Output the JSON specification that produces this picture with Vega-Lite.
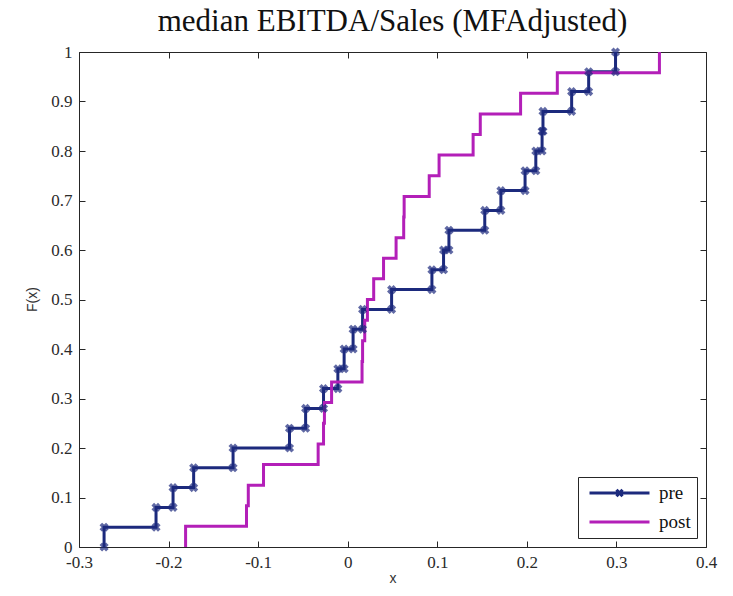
{
  "$schema": "https://vega.github.io/schema/vega-lite/v6.json",
  "width": 627,
  "height": 495,
  "autosize": "none",
  "padding": {"left": 79, "top": 52, "right": 27, "bottom": 49},
  "background": "white",
  "title": {
    "text": "median EBITDA/Sales (MFAdjusted)",
    "font": "Liberation Serif",
    "fontSize": 31,
    "fontWeight": "normal",
    "color": "#111111",
    "anchor": "middle",
    "baseline": "alphabetic",
    "offset": 12,
    "dy": 31
  },
  "config": {
    "view": {"stroke": null},
    "locale": {"number": {"decimal": ".", "thousands": ",", "grouping": [3], "currency": ["", ""], "minus": "-"}},
    "axis": {
      "domainColor": "#262626",
      "tickColor": "#262626",
      "tickSize": -6,
      "grid": false,
      "labelFlush": false,
      "labelFont": "Liberation Serif",
      "labelFontSize": 17,
      "labelColor": "#2a2a2a",
      "titleFont": "Liberation Sans",
      "titleFontSize": 14,
      "titleFontWeight": "normal",
      "titleColor": "#333333"
    }
  },
  "data": {
    "values": [
      {"series": "pre", "x": -0.272, "lo": 0.00, "hi": 0.04},
      {"series": "pre", "x": -0.214, "lo": 0.04, "hi": 0.08},
      {"series": "pre", "x": -0.195, "lo": 0.08, "hi": 0.12},
      {"series": "pre", "x": -0.172, "lo": 0.12, "hi": 0.16},
      {"series": "pre", "x": -0.128, "lo": 0.16, "hi": 0.20},
      {"series": "pre", "x": -0.065, "lo": 0.20, "hi": 0.24},
      {"series": "pre", "x": -0.047, "lo": 0.24, "hi": 0.28},
      {"series": "pre", "x": -0.027, "lo": 0.28, "hi": 0.32},
      {"series": "pre", "x": -0.011, "lo": 0.32, "hi": 0.36},
      {"series": "pre", "x": -0.004, "lo": 0.36, "hi": 0.40},
      {"series": "pre", "x": 0.006, "lo": 0.40, "hi": 0.44},
      {"series": "pre", "x": 0.0166, "lo": 0.44, "hi": 0.48},
      {"series": "pre", "x": 0.049, "lo": 0.48, "hi": 0.52},
      {"series": "pre", "x": 0.094, "lo": 0.52, "hi": 0.56},
      {"series": "pre", "x": 0.107, "lo": 0.56, "hi": 0.60},
      {"series": "pre", "x": 0.113, "lo": 0.60, "hi": 0.64},
      {"series": "pre", "x": 0.153, "lo": 0.64, "hi": 0.68},
      {"series": "pre", "x": 0.171, "lo": 0.68, "hi": 0.72},
      {"series": "pre", "x": 0.198, "lo": 0.72, "hi": 0.76},
      {"series": "pre", "x": 0.210, "lo": 0.76, "hi": 0.80},
      {"series": "pre", "x": 0.217, "lo": 0.80, "hi": 0.84},
      {"series": "pre", "x": 0.218, "lo": 0.84, "hi": 0.88},
      {"series": "pre", "x": 0.250, "lo": 0.88, "hi": 0.92},
      {"series": "pre", "x": 0.269, "lo": 0.92, "hi": 0.96},
      {"series": "pre", "x": 0.299, "lo": 0.96, "hi": 1.00},
      {"series": "post", "x": -0.181, "lo": 0.0, "hi": 0.0417},
      {"series": "post", "x": -0.113, "lo": 0.0417, "hi": 0.0833},
      {"series": "post", "x": -0.111, "lo": 0.0833, "hi": 0.125},
      {"series": "post", "x": -0.094, "lo": 0.125, "hi": 0.1667},
      {"series": "post", "x": -0.033, "lo": 0.1667, "hi": 0.2083},
      {"series": "post", "x": -0.027, "lo": 0.2083, "hi": 0.25},
      {"series": "post", "x": -0.026, "lo": 0.25, "hi": 0.2917},
      {"series": "post", "x": -0.018, "lo": 0.2917, "hi": 0.3333},
      {"series": "post", "x": 0.016, "lo": 0.3333, "hi": 0.375},
      {"series": "post", "x": 0.0166, "lo": 0.375, "hi": 0.4167},
      {"series": "post", "x": 0.019, "lo": 0.4167, "hi": 0.4583},
      {"series": "post", "x": 0.022, "lo": 0.4583, "hi": 0.5},
      {"series": "post", "x": 0.029, "lo": 0.5, "hi": 0.5417},
      {"series": "post", "x": 0.040, "lo": 0.5417, "hi": 0.5833},
      {"series": "post", "x": 0.054, "lo": 0.5833, "hi": 0.625},
      {"series": "post", "x": 0.0625, "lo": 0.625, "hi": 0.6667},
      {"series": "post", "x": 0.063, "lo": 0.6667, "hi": 0.7083},
      {"series": "post", "x": 0.091, "lo": 0.7083, "hi": 0.75},
      {"series": "post", "x": 0.102, "lo": 0.75, "hi": 0.7917},
      {"series": "post", "x": 0.140, "lo": 0.7917, "hi": 0.8333},
      {"series": "post", "x": 0.148, "lo": 0.8333, "hi": 0.875},
      {"series": "post", "x": 0.193, "lo": 0.875, "hi": 0.9167},
      {"series": "post", "x": 0.234, "lo": 0.9167, "hi": 0.9583},
      {"series": "post", "x": 0.348, "lo": 0.9583, "hi": 1.0}
    ]
  },
  "transform": [{"fold": ["lo", "hi"], "as": ["end", "F"]}],
  "layer": [
    {
      "transform": [{"filter": "datum.end === 'hi' || datum.F === 0"}],
      "mark": {"type": "line", "strokeWidth": 3, "interpolate": "step-after"},
      "encoding": {
        "x": {
          "field": "x", "type": "quantitative",
          "scale": {"domain": [-0.3, 0.4], "nice": false, "zero": false},
          "axis": {
            "orient": "bottom",
            "values": [-0.3, -0.2, -0.1, 0, 0.1, 0.2, 0.3, 0.4],
            "format": "~g",
            "labelPadding": 13,
            "title": "x",
            "titleY": 31,
            "titleBaseline": "middle"
          }
        },
        "y": {
          "field": "F", "type": "quantitative",
          "scale": {"domain": [0, 1], "nice": false},
          "axis": {
            "orient": "left",
            "values": [0, 0.1, 0.2, 0.3, 0.4, 0.5, 0.6, 0.7, 0.8, 0.9, 1],
            "format": "~g",
            "labelPadding": 13,
            "title": "F(x)",
            "titleX": -47,
            "titleY": 247,
            "titleBaseline": "middle",
            "titleAngle": -90
          }
        },
        "color": {
          "field": "series", "type": "nominal",
          "scale": {"domain": ["pre", "post"], "range": ["#1c2a7d", "#b31fb8"]},
          "legend": {
            "title": null,
            "orient": "none",
            "legendX": 499,
            "legendY": 425,
            "symbolType": "stroke",
            "symbolSize": 3600,
            "symbolStrokeWidth": 3,
            "symbolOffset": 4,
            "clipHeight": 20,
            "labelFont": "Liberation Serif",
            "labelFontSize": 19,
            "labelColor": "#111111",
            "labelOffset": 8,
            "rowPadding": 9,
            "padding": 6,
            "fillColor": "white",
            "strokeColor": "#262626",
            "encode": {
              "symbols": {
                "update": {
                  "shape": {"signal": "datum.value === 'pre' ? 'M-1,0H1M-0.1,-0.11L0.1,0.11M-0.1,0.11L0.1,-0.11' : 'stroke'"}
                }
              }
            }
          }
        },
        "order": {"field": "F", "type": "quantitative"}
      }
    },
    {
      "transform": [{"filter": "datum.series === 'pre'"}],
      "mark": {
        "type": "point",
        "shape": "cross",
        "angle": 45,
        "filled": true,
        "size": 85,
        "color": "#1c2a7d"
      },
      "encoding": {
        "x": {"field": "x", "type": "quantitative", "axis": null},
        "y": {"field": "F", "type": "quantitative", "axis": null}
      }
    },
    {
      "mark": {"type": "point", "opacity": 0},
      "encoding": {
        "x": {
          "field": "x", "type": "quantitative",
          "axis": {"orient": "top", "values": [-0.3, -0.2, -0.1, 0, 0.1, 0.2, 0.3, 0.4], "labels": false, "title": null}
        },
        "y": {
          "field": "F", "type": "quantitative",
          "axis": {"orient": "right", "values": [0, 0.1, 0.2, 0.3, 0.4, 0.5, 0.6, 0.7, 0.8, 0.9, 1], "labels": false, "title": null}
        }
      }
    }
  ],
  "resolve": {"axis": {"x": "independent", "y": "independent"}}
}
